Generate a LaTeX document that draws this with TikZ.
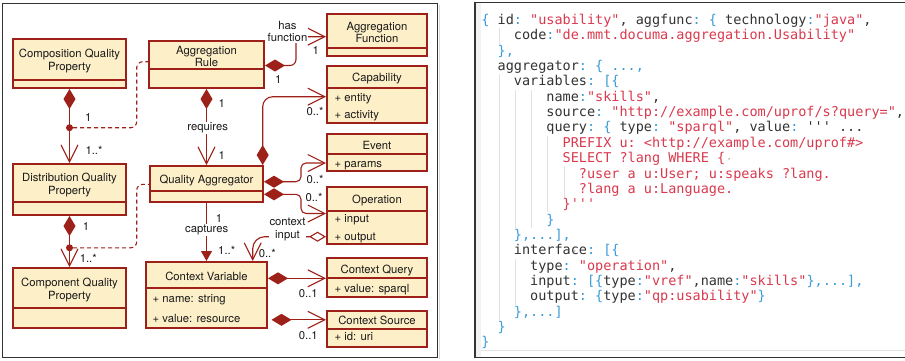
\documentclass[tikz,border=0pt]{standalone}
\usepackage{fontspec}
\setmainfont{TeX Gyre Heros}
\setmonofont{DejaVu Sans Mono}
\usetikzlibrary{arrows.meta}

\definecolor{bred}{HTML}{9E2119}
\definecolor{bfill}{HTML}{FDEFC8}
\definecolor{pframe}{HTML}{333333}
\definecolor{ckey}{HTML}{333333}
\definecolor{cpun}{HTML}{3B9BD6}
\definecolor{cstr}{HTML}{D93A4E}
\definecolor{cguide}{HTML}{E2E2E2}

% code colouring
\newcommand\codeK[1]{\textcolor{ckey}{#1}}
\newcommand\codeP[1]{\textcolor{cpun}{#1}}
\newcommand\codeS[1]{\textcolor{cstr}{#1}}
\newcommand\codeD[1]{\textcolor{ckey}{#1}}

% UML class box: name, left, top, right, bottom, divider y
\newcommand\umlbox[6]{%
  \node[umlbox, minimum width={#4pt-#2pt-2.4pt}, minimum height={#5pt-#3pt-2.4pt}]
    (#1) at ({(#2+#4)/2},{(#3+#5)/2}) {};
  \draw[divider] (#1.west |- 0,#6) -- (#1.east |- 0,#6);
}
% one line of the JSON listing: name, line number, indent (characters), text
\newcommand\codeline[4]{%
  \node[codetxt] (#1) at ({481.2+#3*8.127},{24.5+(#2-1)*15.35}) {#4};
}

\tikzset{
  compo/.tip={Diamond[length=20pt,width=12pt]},
  opendia/.tip={Diamond[open,length=17pt,width=10pt]},
  openarr/.tip={Straight Barb[length=17pt,width=17pt]},
  filltri/.tip={Triangle[length=10pt,width=11pt]},
}

\begin{document}
\begin{tikzpicture}[x=1pt,y=-1pt,
  umlbox/.style={rectangle, draw=bred, fill=bfill, line width=2.4pt, inner sep=0pt},
  divider/.style={draw=bred, line width=2pt},
  conn/.style={draw=bred, line width=1.1pt},
  dashline/.style={dash pattern=on 4pt off 3pt},
  jdot/.style={circle, fill=bred, inner sep=0pt, minimum size=7pt},
  txt/.style={font=\fontsize{11.3}{12.7}\selectfont, text=black!90, inner sep=0pt, anchor=base},
  attr/.style={txt, anchor=base west},
  lbl/.style={txt, inner sep=1pt},
  wlbl/.style={lbl, fill=white},
  panel/.style={draw=pframe, line width=1.4pt},
  codetxt/.style={font=\fontsize{13.5}{15}\ttfamily\frenchspacing, inner sep=0pt, anchor=base west},
  guide/.style={draw=cguide, line width=0.8pt},
]
\useasboundingbox (0,0) rectangle (905,360);
\fill[white] (0,0) rectangle (905,360);

% ---------- panels ----------
\draw[line width=1pt, black!15] (439.5,5) -- (439.5,359);
\draw[panel] (2.7,3.3) rectangle (437.3,357.7);
\fill[black!5] (476,3) rectangle (481,357);
\draw[black!10, line width=0.8pt] (481,350) -- (908,350);
\draw[panel] (910,2.7) -- (475,2.7) -- (475,357.3) -- (910,357.3);

% ---------- class boxes ----------
\umlbox{cqp}{12}{38}{127}{89}{80}
\umlbox{dqp}{12}{163}{127}{216}{202}
\umlbox{cmp}{12}{267}{127}{329}{308}
\umlbox{ar}{148}{40}{265}{89}{69}
\umlbox{qa}{149}{165}{264}{203}{191}
\umlbox{cv}{145}{261}{268}{329}{288}
\umlbox{af}{326}{13}{428}{57}{48}
\umlbox{cap}{326}{65}{428}{124}{88}
\umlbox{ev}{326}{133}{428}{172}{154}
\umlbox{op}{326}{186}{428}{245}{211}
\umlbox{cq}{326}{257}{428}{298}{277.5}
\umlbox{cs}{326}{310}{428}{348}{328.5}

\node[txt] (cqp-t1) at (69.5,57.2) {Composition Quality};
\node[txt] (cqp-t2) at (69.5,70) {Property};
\node[txt] (ar-t1) at (206.5,54) {Aggregation};
\node[txt] (ar-t2) at (206.5,66.3) {Rule};
\node[txt] (dqp-t1) at (69.5,181) {Distribution Quality};
\node[txt] (dqp-t2) at (69.5,194) {Property};
\node[txt] (cmp-t1) at (69.5,286.6) {Component Quality};
\node[txt] (cmp-t2) at (69.5,299.6) {Property};
\node[txt] (qa-t) at (206.5,183.2) {Quality Aggregator};
\node[txt] (cv-t) at (206.5,280.5) {Context Variable};
\node[attr] (cv-a1) at (152.5,302) {+ name: string};
\node[attr] (cv-a2) at (152.5,322) {+ value: resource};
\node[txt] (af-t1) at (377,30) {Aggregation};
\node[txt] (af-t2) at (377,42.3) {Function};
\node[txt] (cap-t) at (377,81.5) {Capability};
\node[attr] (cap-a1) at (334.5,101) {+ entity};
\node[attr] (cap-a2) at (334.5,118) {+ activity};
\node[txt] (ev-t) at (377,149) {Event};
\node[attr] (ev-a1) at (334.5,167) {+ params};
\node[txt] (op-t) at (377,203) {Operation};
\node[attr] (op-a1) at (334.5,222) {+ input};
\node[attr] (op-a2) at (334.5,240) {+ output};
\node[txt] (cq-t) at (377,273) {Context Query};
\node[attr] (cq-a1) at (334.5,292) {+ value: sparql};
\node[txt] (cs-t) at (377,324) {Context Source};
\node[attr] (cs-a1) at (334.5,340.5) {+ id: uri};

% ---------- associations ----------
\draw[conn, compo-openarr] (cqp.south) -- (dqp.north);
\draw[conn, compo-openarr] (dqp.south) -- (cmp.north);
\node[jdot] (j1) at (69.5,127.7) {};
\node[jdot] (j2) at (69.5,247.8) {};
\draw[conn, dashline, rounded corners=6pt] (j1) -- (136.7,127.7) -- (136.7,61.7) -- (ar.west |- 0,61.7);
\draw[conn, dashline, rounded corners=6pt] (j2) -- (136.7,247.8) -- (136.7,184.3) -- (qa.west |- 0,184.3);

\draw[conn, compo-openarr] (ar.south) -- (qa.north);
\draw[conn, rounded corners=6pt, compo-openarr] (ar.east |- 0,65.5) -- (296,65.5) -- (296,36.7) -- (af.west |- 0,36.7);
\draw[conn, rounded corners=10pt, compo-openarr] (262.7,0 |- qa.north) -- (262.7,96.7) -- (cap.west |- 0,96.7);
\draw[conn, rounded corners=5pt, compo-openarr] (qa.east |- 0,181.7) -- (301,181.7) -- (301,163) -- (ev.west |- 0,163);
\draw[conn, rounded corners=5pt, compo-openarr] (qa.east |- 0,194.3) -- (301,194.3) -- (301,213.5) -- (op.west |- 0,213.5);
\draw[conn, rounded corners=12pt, opendia-openarr] (op.west |- 0,236.7) -- (252.7,236.7) -- (252.7,0 |- cv.north);
\draw[conn, -filltri] (qa.south) -- (cv.north);
\draw[conn, compo-openarr] (cv.east |- 0,278.3) -- (cq.west |- 0,278.3);
\draw[conn, compo-openarr, shorten <=3.5pt] (cv.east |- 0,319.8) -- (cs.west |- 0,319.8);

% ---------- multiplicities and role names ----------
\node[lbl] (m1) at (88.3,121) {1};
\node[lbl] (m2) at (94,154.7) {1..*};
\node[lbl] (m3) at (86,230) {1};
\node[wlbl] (m4) at (88.3,262.3) {1..*};
\node[lbl] (m5) at (221.7,107.3) {1};
\node[wlbl] (m6) at (207.7,130.6) {requires};
\node[lbl] (m7) at (221.7,159.7) {1};
\node[wlbl, align=center, anchor=center] (m8) at (287.5,31.5) {has\\function};
\node[lbl] (m9) at (315.7,54.7) {1};
\node[lbl] (m10) at (278.3,83.3) {1};
\node[lbl] (m11) at (315,115.5) {0..*};
\node[lbl] (m12) at (315,183.2) {0..*};
\node[lbl] (m13) at (314,201.2) {0..*};
\node[wlbl, align=center, anchor=center] (m14) at (287.5,229.5) {context\\input};
\node[lbl] (m15) at (267.3,257.2) {0..*};
\node[lbl] (m16) at (219,222.3) {1};
\node[wlbl] (m17) at (206.7,232.3) {captures};
\node[lbl] (m18) at (226.7,254) {1..*};
\node[lbl] (m19) at (308.3,297.3) {0..1};
\node[lbl] (m20) at (308.3,339) {0..1};

% ---------- JSON listing: indent guides ----------
\draw[guide] (499,28.25) -- (499,43.6);
\draw[guide] (498.95,74.3) -- (498.95,319.9);
\draw[guide] (515.2,89.65) -- (515.2,227.8);
\draw[guide] (515.2,258.5) -- (515.2,304.55);
\draw[guide] (531.5,89.65) -- (531.5,227.8);
\draw[guide] (547.7,135.7) -- (547.7,212.45);
\draw[guide] (564.0,166.4) -- (564.0,197.1);
% trailing-space markers
\fill[black!25] (729.1,158.8) circle (1.1pt);
\fill[black!25] (574.7,250.9) circle (1.1pt);
\fill[black!25] (623.4,266.3) circle (1.1pt);

% ---------- JSON listing: text ----------
\codeline{c01}{1}{0}{\codeP{\{ }\codeK{id}\codeP{: }\codeS{"usability"}\codeD{, }\codeK{aggfunc}\codeP{: \{ }\codeK{technology}\codeP{:}\codeS{"java"}\codeD{,}}
\codeline{c02}{2}{4}{\codeK{code}\codeP{:}\codeS{"de.mmt.documa.aggregation.Usability"}}
\codeline{c03}{3}{2}{\codeP{\},}}
\codeline{c04}{4}{2}{\codeK{aggregator}\codeP{: \{ ...,}}
\codeline{c05}{5}{4}{\codeK{variables}\codeP{: [\{}}
\codeline{c06}{6}{8}{\codeK{name}\codeP{:}\codeS{"skills"}\codeD{,}}
\codeline{c07}{7}{8}{\codeK{source}\codeP{: }\codeS{"http://example.com/uprof/s?query="}\codeD{,}}
\codeline{c08}{8}{8}{\codeK{query}\codeP{: \{ }\codeK{type}\codeP{: }\codeS{"sparql"}\codeD{, }\codeK{value}\codeP{: }\codeD{''' ...}}
\codeline{c09}{9}{10}{\codeS{PREFIX u: <http://example.com/uprof\#>}}
\codeline{c10}{10}{10}{\codeS{SELECT ?lang WHERE \{}}
\codeline{c11}{11}{12}{\codeS{?user a u:User; u:speaks ?lang.}}
\codeline{c12}{12}{12}{\codeS{?lang a u:Language.}}
\codeline{c13}{13}{10}{\codeS{\}'''}}
\codeline{c14}{14}{8}{\codeP{\}}}
\codeline{c15}{15}{4}{\codeP{\},...],}}
\codeline{c16}{16}{4}{\codeK{interface}\codeP{: [\{}}
\codeline{c17}{17}{6}{\codeK{type}\codeP{: }\codeS{"operation"}\codeD{,}}
\codeline{c18}{18}{6}{\codeK{input}\codeP{: [\{}\codeK{type}\codeP{:}\codeS{"vref"}\codeD{,}\codeK{name}\codeP{:}\codeS{"skills"}\codeP{\},...],}}
\codeline{c19}{19}{6}{\codeK{output}\codeP{: \{}\codeK{type}\codeP{:}\codeS{"qp:usability"}\codeP{\}}}
\codeline{c20}{20}{4}{\codeP{\},...]}}
\codeline{c21}{21}{2}{\codeP{\}}}
\codeline{c22}{22}{0}{\codeP{\}}}
\end{tikzpicture}
\end{document}
